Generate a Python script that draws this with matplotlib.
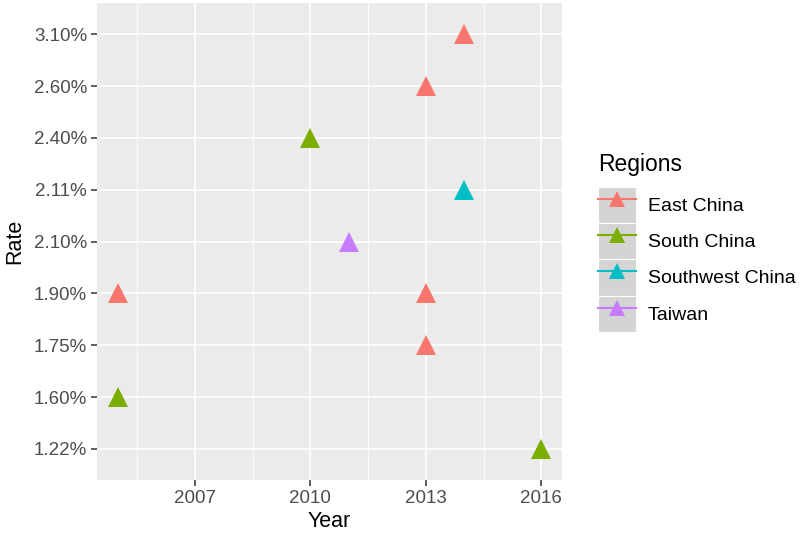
import matplotlib.pyplot as plt
from matplotlib.lines import Line2D
from matplotlib.patches import Patch
from matplotlib.legend_handler import HandlerTuple

plt.rcParams['font.family'] = ['Liberation Sans', 'DejaVu Sans']

# rate levels, bottom to top (discrete axis)
rate_levels = ["1.22%", "1.60%", "1.75%", "1.90%", "2.10%", "2.11%", "2.40%", "2.60%", "3.10%"]

regions = ["East China", "South China", "Southwest China", "Taiwan"]
colors = ["#F8766D", "#7CAE00", "#00BFC4", "#C77CFF"]

east_years = [2014, 2013, 2005, 2013, 2013]
east_rates = ["3.10%", "2.60%", "1.90%", "1.90%", "1.75%"]
south_years = [2010, 2005, 2016]
south_rates = ["2.40%", "1.60%", "1.22%"]
southwest_years = [2014]
southwest_rates = ["2.11%"]
taiwan_years = [2011]
taiwan_rates = ["2.10%"]

series = [(east_years, east_rates), (south_years, south_rates),
          (southwest_years, southwest_rates), (taiwan_years, taiwan_rates)]

year_ticks = [2007, 2010, 2013, 2016]
year_minor = [2005.5, 2008.5, 2011.5, 2014.5]

fig = plt.figure(figsize=(8, 5.37), dpi=100)
ax = fig.add_axes([0.121, 0.106, 0.582, 0.888])
ax.set_facecolor("#EBEBEB")
for s in ax.spines.values():
    s.set_visible(False)

for (yrs, rts), c in zip(series, colors):
    ypos = [rate_levels.index(r) + 1 for r in rts]
    ax.plot(yrs, ypos, linestyle="none", marker="^", ms=15, color=c,
            markeredgewidth=0, zorder=3)

ax.set_xlim(2004.45, 2016.55)
ax.set_ylim(0.4, len(rate_levels) + 0.6)
ax.set_xticks(year_ticks)
ax.set_xticks(year_minor, minor=True)
ax.set_yticks(range(1, len(rate_levels) + 1))
ax.set_yticklabels(rate_levels)
ax.grid(which="major", color="white", linewidth=1.2, zorder=0)
ax.grid(which="minor", axis="x", color="white", linewidth=0.6, zorder=0)
ax.set_axisbelow(True)
ax.tick_params(which="major", length=4, width=1.1, color="#333333",
               labelsize=13.5, labelcolor="#4D4D4D", pad=3)
ax.tick_params(which="minor", length=0)
ax.set_xlabel("Year", fontsize=15.5, color="black", labelpad=3)
ax.set_ylabel("Rate", fontsize=15.5, color="black", labelpad=6)

handles = [(Patch(facecolor="#D4D4D4", edgecolor="white", linewidth=0.8),
            Line2D([], [], color=c, marker="^", ms=12, markeredgewidth=0, linewidth=1.5))
           for c in colors]
leg = fig.legend(handles, regions, handler_map={tuple: HandlerTuple(ndivide=1, pad=0)},
                 loc="upper left", bbox_to_anchor=(0.748, 0.716), frameon=False,
                 title="Regions", title_fontsize=16.5, fontsize=14,
                 handlelength=1.95, handleheight=2.5, labelspacing=0.0,
                 handletextpad=0.6, borderaxespad=0, borderpad=0)
leg._legend_box.align = "left"
leg._legend_box.sep = 8

fig.savefig("out.png", dpi=100)
